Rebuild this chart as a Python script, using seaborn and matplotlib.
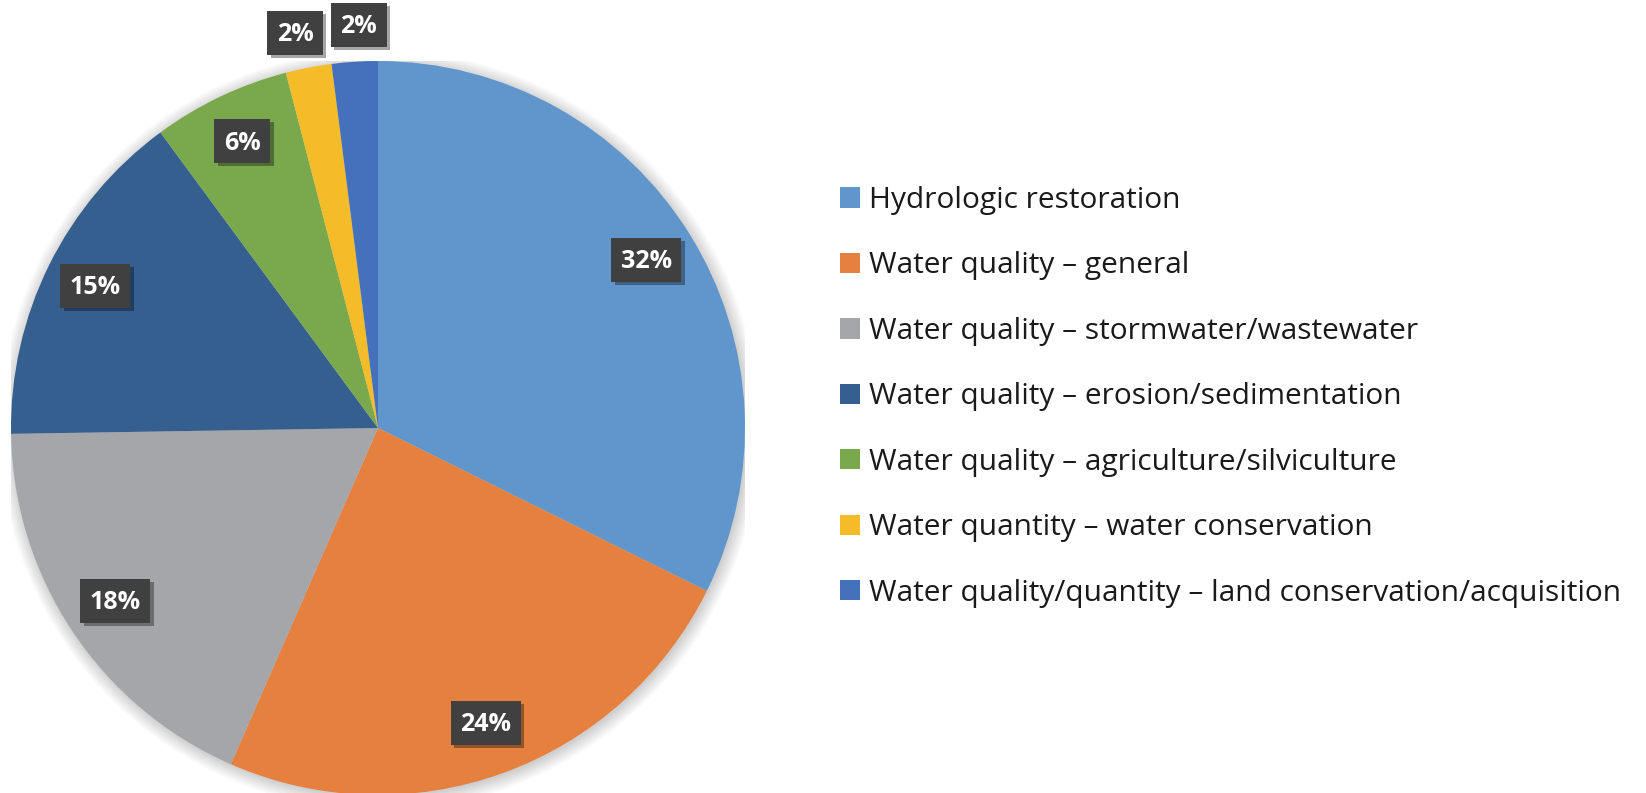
import matplotlib
matplotlib.use("Agg")
import matplotlib.pyplot as plt
import matplotlib.patheffects as pe
from matplotlib.patches import Circle
from matplotlib.path import Path
import numpy as np
import seaborn as sns

categories = [
    "Hydrologic restoration",
    "Water quality \u2013 general",
    "Water quality \u2013 stormwater/wastewater",
    "Water quality \u2013 erosion/sedimentation",
    "Water quality \u2013 agriculture/silviculture",
    "Water quantity \u2013 water conservation",
    "Water quality/quantity \u2013 land conservation/acquisition",
]
values = [32, 24, 18, 15, 6, 2, 2]
colors = ["#6096CC", "#E5803F", "#A5A6A9", "#355F8F", "#79A94C", "#F5BC2A", "#4470BC"]

sns.set_theme(style="white")
plt.rcParams["font.family"] = ["Open Sans", "DejaVu Sans"]

W, H = 1646, 793
fig = plt.figure(figsize=(W / 100, H / 100), dpi=100)
fig.patch.set_facecolor("white")

cx, cy, r = 378, 428, 367
ax = fig.add_axes([(cx - r) / W, (H - cy - r) / H, 2 * r / W, 2 * r / H])
ax.axis("off")

# soft shadow around the pie
for rr in np.linspace(1.035, 1.0, 8):
    ax.add_patch(Circle((0.004, -0.006), rr, color="black", alpha=0.022, lw=0, zorder=0))

wedges, texts, autotexts = ax.pie(
    values,
    colors=colors,
    startangle=90,
    counterclock=False,
    autopct=lambda p: f"{p:.0f}%",
    pctdistance=0.86,
    radius=1.0,
    wedgeprops=dict(linewidth=0, zorder=1),
    textprops=dict(color="white", fontsize=18, fontweight="bold"),
)
ax.set_xlim(-1, 1)
ax.set_ylim(-1, 1)


def label_box(x0, y0, width, height, mutation_size):
    # fixed-size label box (pixels), centred on the text
    bw = width + 19
    bh = 44
    xc = x0 + width / 2
    yc = y0 + height / 2 + 2
    l, rgt = xc - bw / 2, xc + bw / 2
    b, t = yc - bh / 2, yc + bh / 2
    return Path([(l, b), (rgt, b), (rgt, t), (l, t), (l, b)],
                [Path.MOVETO, Path.LINETO, Path.LINETO, Path.LINETO, Path.CLOSEPOLY])


# small slices: labels pushed outside the pie and spread apart slightly
outer_shift = {5: 1.0, 6: -0.9}
for i, (v, t) in enumerate(zip(values, autotexts)):
    t.set_text(f"{v}%")
    if i in outer_shift:
        x, y = t.get_position()
        ang = np.arctan2(y, x) + np.deg2rad(outer_shift[i])
        t.set_position((1.095 * np.cos(ang), 1.095 * np.sin(ang)))
    t.set_bbox(dict(boxstyle=label_box, facecolor="#404040", edgecolor="none"))
    t.get_bbox_patch().set_path_effects(
        [pe.SimplePatchShadow(offset=(2.5, -2.5), shadow_rgbFace="black", alpha=0.35), pe.Normal()]
    )
    t.set_zorder(5)

fig.legend(
    wedges,
    categories,
    loc="upper left",
    bbox_to_anchor=(840 / W, 1 - 186 / H),
    frameon=False,
    fontsize=21.5,
    handlelength=0.67,
    handleheight=0.67,
    handletextpad=0.3,
    labelspacing=1.22,
    borderpad=0,
    borderaxespad=0,
    labelcolor="#1a1a1a",
)

fig.savefig("out.png", dpi=100, facecolor="white")
